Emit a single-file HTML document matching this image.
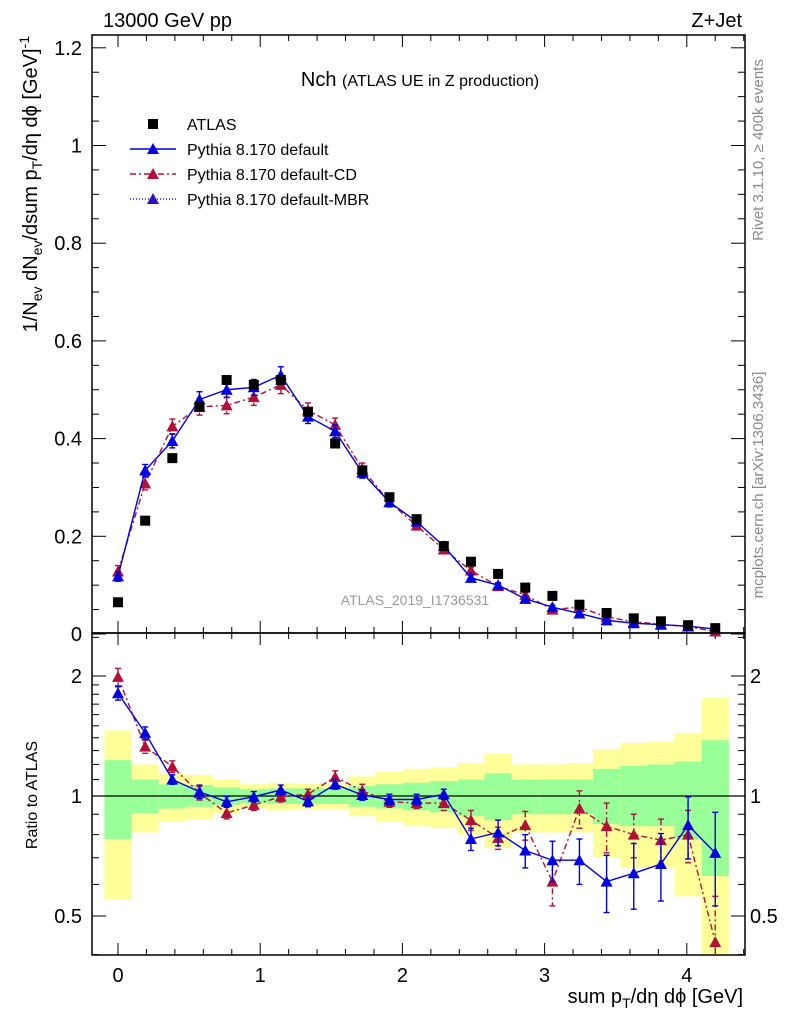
<!DOCTYPE html>
<html><head><meta charset="utf-8"><style>
body{margin:0;background:#fff;}
svg{display:block;font-family:"Liberation Sans",Arial,sans-serif;}
</style></head><body>
<svg id="c" width="786" height="1024" viewBox="0 0 786 1024"></svg>
<script>
const xs=[0,0.191,0.382,0.573,0.764,0.955,1.145,1.336,1.527,1.718,1.909,2.1,2.291,2.482,2.673,2.864,3.055,3.245,3.436,3.627,3.818,4.009,4.2];
const atlas=[0.065,0.232,0.36,0.465,0.52,0.51,0.52,0.455,0.39,0.335,0.28,0.235,0.18,0.148,0.123,0.095,0.078,0.06,0.043,0.032,0.026,0.018,0.012];
const pyDef=[0.118,0.335,0.395,0.48,0.5,0.505,0.53,0.445,0.415,0.33,0.27,0.23,0.18,0.115,0.1,0.072,0.055,0.042,0.028,0.022,0.019,0.016,0.01];
const pyCD=[0.128,0.308,0.425,0.465,0.468,0.485,0.51,0.458,0.428,0.338,0.27,0.222,0.173,0.13,0.098,0.08,0.05,0.055,0.035,0.025,0.02,0.015,0.005];
const errDef=[0.01,0.012,0.014,0.016,0.016,0.016,0.017,0.014,0.013,0.011,0.009,0.008,0.007,0.006,0.005,0.004,0.004,0.003,0.003,0.003,0.002,0.002,0.002];
const errCD=[0.012,0.013,0.015,0.017,0.017,0.017,0.018,0.015,0.014,0.012,0.01,0.009,0.008,0.006,0.005,0.005,0.004,0.004,0.003,0.003,0.003,0.002,0.002];
const rDef=[1.81,1.44,1.10,1.025,0.967,0.996,1.035,0.97,1.07,1.006,0.98,0.98,1.01,0.78,0.81,0.73,0.69,0.69,0.61,0.64,0.675,0.845,0.72];
const rDefErr=[0.07,0.05,0.03,0.04,0.03,0.03,0.03,0.03,0.03,0.03,0.03,0.03,0.03,0.05,0.06,0.07,0.08,0.09,0.1,0.12,0.13,0.15,0.19];
const rCD=[1.99,1.33,1.185,1.017,0.906,0.95,0.996,1.01,1.116,1.03,0.967,0.96,0.96,0.87,0.785,0.845,0.61,0.93,0.84,0.80,0.775,0.80,0.43];
const rCDErr=[0.1,0.05,0.04,0.04,0.03,0.03,0.03,0.03,0.04,0.04,0.03,0.03,0.04,0.05,0.05,0.07,0.08,0.1,0.12,0.1,0.1,0.12,0.13];
const yelHi=[1.46,1.20,1.14,1.13,1.10,1.07,1.08,1.075,1.075,1.12,1.15,1.17,1.18,1.21,1.28,1.20,1.20,1.21,1.31,1.36,1.37,1.44,1.77];
const yelLo=[0.55,0.81,0.86,0.875,0.905,0.93,0.92,0.925,0.925,0.89,0.86,0.84,0.83,0.80,0.74,0.81,0.81,0.81,0.70,0.66,0.66,0.56,0.35];
const grnHi=[1.23,1.10,1.07,1.065,1.05,1.04,1.045,1.045,1.045,1.06,1.07,1.08,1.09,1.10,1.14,1.10,1.10,1.10,1.17,1.19,1.20,1.22,1.38];
const grnLo=[0.78,0.905,0.93,0.94,0.95,0.96,0.955,0.955,0.955,0.94,0.93,0.92,0.91,0.89,0.87,0.90,0.90,0.90,0.85,0.84,0.84,0.78,0.63];
const mainTicks=["0","0.2","0.4","0.6","0.8","1","1.2"];
const xTicks=["0","1","2","3","4"];

const NS="http://www.w3.org/2000/svg";
const svg=document.getElementById('c');
const L=92,R=745,T=35,MB=633,RB=955;
const X=v=>118+v*142.2;
const Y=v=>634-v*488.5;
const RY=r=>796-173.1*Math.log(r);
function el(tag,a,parent){const e=document.createElementNS(NS,tag);for(const k in a)e.setAttribute(k,a[k]);(parent||svg).appendChild(e);return e;}
function txt(s,a,parent){const e=el('text',a,parent);e.textContent=s;return e;}

const clipD=el('defs',{});
const cp=el('clipPath',{id:'rclip'},clipD);
el('rect',{x:L,y:MB,width:R-L,height:RB-MB},cp);

const bands=el('g',{'clip-path':'url(#rclip)'});


xs.forEach((x,i)=>{
  const x0=X(x-0.0955),x1=Math.min(X(x+0.0955),R);
  const y=el('rect',{x:x0,y:RY(yelHi[i]),width:x1-x0,height:RY(yelLo[i])-RY(yelHi[i]),fill:'#ffff99'},bands);
  
  
  const g=el('rect',{x:x0,y:RY(grnHi[i]),width:x1-x0,height:RY(grnLo[i])-RY(grnHi[i]),fill:'#99ff99'},bands);
  
  
});
el('line',{x1:L,x2:R,y1:RY(1),y2:RY(1),stroke:'#000','stroke-width':1.3});

el('rect',{x:L,y:T,width:R-L,height:MB-T,fill:'none',stroke:'#000','stroke-width':1.5});
el('rect',{x:L,y:MB,width:R-L,height:RB-MB,fill:'none',stroke:'#000','stroke-width':1.5});

for(let v=-0.2;v<=4.41;v+=0.2){
  const px=X(v);if(px<L||px>R)continue;
  const maj=Math.abs(v-Math.round(v))<1e-6;
  const l=maj?12:6;
  [[MB,-1],[T,1],[RB,-1],[MB,1]].forEach(([y0,d])=>el('line',{x1:px,x2:px,y1:y0,y2:y0+d*l,stroke:'#000','stroke-width':1}));
}
xTicks.forEach((t,i)=>{const e=txt(t,{x:X(+t),y:982,'font-size':20,'text-anchor':'middle'});});
for(let v=0;v<=1.221;v+=0.05){
  const maj=Math.abs(v/0.2-Math.round(v/0.2))<1e-6;const l=maj?14:7;
  el('line',{x1:L,x2:L+l,y1:Y(v),y2:Y(v),stroke:'#000'});
  el('line',{x1:R,x2:R-l,y1:Y(v),y2:Y(v),stroke:'#000'});
}
mainTicks.forEach(t=>{const e=txt(t,{x:82,y:Y(+t)+7,'font-size':20,'text-anchor':'end'});});
[0.4,0.5,0.6,0.7,0.8,0.9,1,1.1,1.2,1.3,1.4,1.5,1.6,1.7,1.8,1.9,2,2.5].forEach(r=>{
  const y=RY(r);if(y<MB||y>RB)return;
  const maj=(r===0.5||r===1||r===2);const l=maj?14:7;
  el('line',{x1:L,x2:L+l,y1:y,y2:y,stroke:'#000'});
  el('line',{x1:R,x2:R-l,y1:y,y2:y,stroke:'#000'});
});
[["2",2],["1",1],["0.5",0.5]].forEach(([t,r])=>{
  txt(t,{x:82,y:RY(r)+7,'font-size':20,'text-anchor':'end'});
  txt(t,{x:750,y:RY(r)+7,'font-size':20});
});

function tri(g,x,y,c){el('path',{d:`M${x-6},${y+5}L${x+6},${y+5}L${x},${y-6}Z`,fill:c},g);}
function series(vals,errs,yf,color,dash,name,clip){
  const g=el('g',clip?{'clip-path':'url(#rclip)'}:{});
  
  
  const pts=xs.map((x,i)=>X(x)+','+yf(vals[i])).join(' ');
  const pl=el('polyline',{points:pts,fill:'none',stroke:color,'stroke-width':1.4},g);
  if(dash)pl.setAttribute('stroke-dasharray',dash);
  xs.forEach((x,i)=>{
    const px=X(x),y1=yf(vals[i]+errs[i]),y2=yf(Math.max(vals[i]-errs[i],0.01));
    const l=el('line',{x1:px,x2:px,y1:y1,y2:y2,stroke:color,'stroke-width':1.4},g);
    if(dash)l.setAttribute('stroke-dasharray',dash);
    el('line',{x1:px-3,x2:px+3,y1:y1,y2:y1,stroke:color,'stroke-width':1.4},g);
    el('line',{x1:px-3,x2:px+3,y1:y2,y2:y2,stroke:color,'stroke-width':1.4},g);
    tri(g,px,yf(vals[i]),color);
  });
}
const red='#b0103a',blue='#0000e0';
series(pyCD,errCD,Y,red,'6,3,2,3','pythia-cd-series');
series(pyDef,errDef,Y,blue,null,'pythia-default-series');
const ag=el('g',{});


xs.forEach((x,i)=>el('rect',{x:X(x)-5,y:Y(atlas[i])-5,width:10,height:10,fill:'#000'},ag));
series(rCD,rCDErr,RY,red,'6,3,2,3','ratio-cd-series',true);
series(rDef,rDefErr,RY,blue,null,'ratio-default-series',true);

txt('13000 GeV pp',{x:103,y:27,'font-size':20});
txt('Z+Jet',{x:742,y:27,'font-size':20,'text-anchor':'end'});
const ti=el('text',{x:420,y:86,'text-anchor':'middle','font-size':20});
ti.innerHTML='Nch <tspan font-size="16">(ATLAS UE in Z production)</tspan>';
const leg=el('g',{});


el('rect',{x:148,y:119,width:10,height:10,fill:'#000'},leg);
txt('ATLAS',{x:187,y:130,'font-size':16},leg);
el('line',{x1:130,x2:176,y1:149,y2:149,stroke:blue,'stroke-width':1.4},leg);tri(leg,153,149,blue);
txt('Pythia 8.170 default',{x:187,y:155,'font-size':16},leg);
el('line',{x1:130,x2:176,y1:174,y2:174,stroke:red,'stroke-width':1.4,'stroke-dasharray':'6,3,2,3'},leg);tri(leg,153,174,red);
txt('Pythia 8.170 default-CD',{x:187,y:180,'font-size':16},leg);
el('line',{x1:130,x2:176,y1:199,y2:199,stroke:'#2222cc','stroke-width':1.4,'stroke-dasharray':'1,2'},leg);tri(leg,153,199,'#3010c0');
txt('Pythia 8.170 default-MBR',{x:187,y:205,'font-size':16},leg);
txt('ATLAS_2019_I1736531',{x:415,y:605,'font-size':14,fill:'#999','text-anchor':'middle'});
txt('Rivet 3.1.10, \u2265 400k events',{x:0,y:0,'font-size':15,fill:'#888','text-anchor':'middle',transform:'translate(763,150) rotate(-90)'});
txt('mcplots.cern.ch [arXiv:1306.3436]',{x:0,y:0,'font-size':15,fill:'#888','text-anchor':'middle',transform:'translate(763,485) rotate(-90)'});
const yl=el('text',{transform:'translate(37,36) rotate(-90)','font-size':20,'text-anchor':'end'});
yl.innerHTML='1/N<tspan font-size="14" dy="5">ev</tspan><tspan dy="-5"> dN</tspan><tspan font-size="14" dy="5">ev</tspan><tspan dy="-5">/dsum p</tspan><tspan font-size="14" dy="5">T</tspan><tspan dy="-5">/d\u03b7 d\u03d5  [GeV]</tspan><tspan font-size="14" dy="-8">-1</tspan>';
txt('Ratio to ATLAS',{transform:'translate(37,795) rotate(-90)','font-size':16,'text-anchor':'middle'});
const xl=el('text',{x:743,y:1003,'font-size':20,'text-anchor':'end'});
xl.innerHTML='sum p<tspan font-size="14" dy="5">T</tspan><tspan dy="-5">/d\u03b7 d\u03d5 [GeV]</tspan>';
</script>
</body></html>
